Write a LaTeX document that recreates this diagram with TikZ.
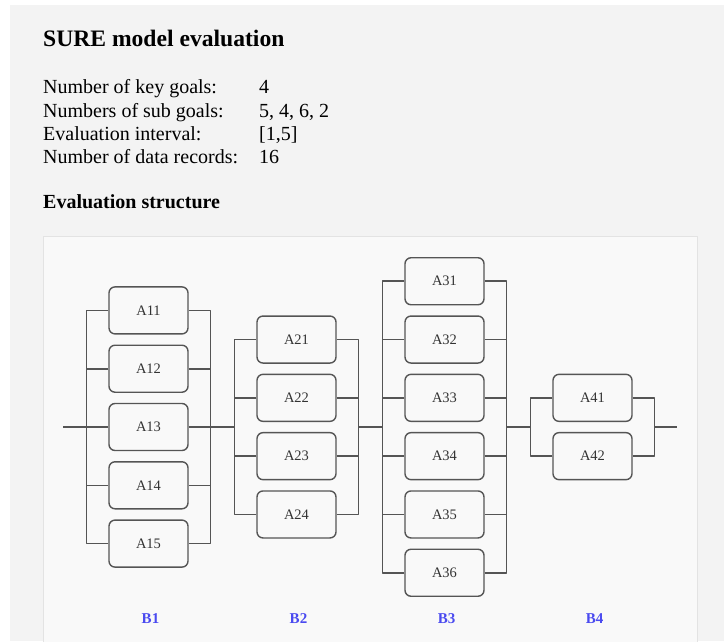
\documentclass[tikz,border=0pt]{standalone}
\usepackage{fontspec}
\setmainfont{Liberation Serif}
\definecolor{pagegray}{HTML}{F3F3F3}
\definecolor{panelgray}{HTML}{F9F9F9}
\definecolor{panelline}{HTML}{E3E3E3}
\definecolor{wiregray}{HTML}{555555}
\definecolor{labelblue}{HTML}{4A4AF0}
\tikzset{
	goalbox/.style={draw=wiregray, line width=1.4pt, rounded corners=6pt, fill=panelgray, minimum width=79pt, minimum height=47pt, inner sep=0pt, text=black!80, font=\fontsize{14.5}{17}\selectfont},
	wire/.style={draw=wiregray, line width=1.6pt},
	keylabel/.style={text=labelblue, font=\bfseries\fontsize{15}{18}\selectfont},
	infotext/.style={anchor=base west, inner sep=0pt, font=\fontsize{20}{24}\selectfont}
}
\begin{document}
\begin{tikzpicture}[x=1pt, y=-1pt, line join=round]
		\useasboundingbox (0,0) rectangle (724,641);
		\fill[white] (0,0) rectangle (724,641);
		\fill[pagegray] (10,5) rectangle (724,641);
		\draw[panelline, fill=panelgray] (43,236.5) rectangle (697,660);
		% header text
		\node[infotext, font=\bfseries\fontsize{23.6}{28}\selectfont] (title) at (43,46) {SURE model evaluation};
		\node[infotext] (keygoals) at (43,93) {Number of key goals:};
		\node[infotext] (subgoals) at (43,117) {Numbers of sub goals:};
		\node[infotext] (interval) at (43,140) {Evaluation interval:};
		\node[infotext] (records) at (43,163) {Number of data records:};
		\node[infotext] (keygoalsval) at (259,93) {4};
		\node[infotext] (subgoalsval) at (259,117) {5, 4, 6, 2};
		\node[infotext] (intervalval) at (259,140) {[1,5]};
		\node[infotext] (recordsval) at (259,163) {16};
		\node[infotext, font=\bfseries\fontsize{20}{24}\selectfont] (structure) at (43,208) {Evaluation structure};
		% parallel blocks
		\foreach \k/\n in {1/5,2/4,3/6,4/2} {
			\coordinate (in\k) at ({148.5+148*(\k-1)-62},427);
			\coordinate (out\k) at ({148.5+148*(\k-1)+62},427);
			\foreach \j in {1,...,\n} {
				\node[goalbox] (A\k\j) at ({148.5+148*(\k-1)},{427+58.3*(\j-(\n+1)/2)}) {A\k\j};
				\draw[wire] (A\k\j.west) -| (in\k);
				\draw[wire] (A\k\j.east) -| (out\k);
			}
			\node[keylabel] (B\k) at ({150.5+148*(\k-1)},619) {B\k};
		}
		% series line
		\coordinate (start) at (63,427);
		\coordinate (end) at (677,427);
		\draw[wire] (start) -- (in1) (out1) -- (in2) (out2) -- (in3) (out3) -- (in4) (out4) -- (end);
	\end{tikzpicture}
\end{document}
